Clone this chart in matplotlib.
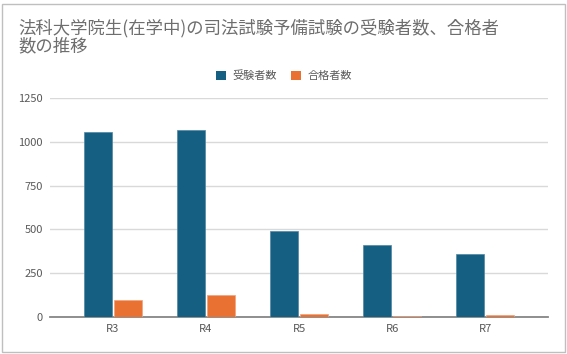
import numpy as np
import matplotlib
matplotlib.use('Agg')
import matplotlib.pyplot as plt
from matplotlib.patches import Rectangle, Patch

plt.rcParams['font.family'] = ['Noto Sans CJK JP', 'DejaVu Sans']

# data
categories = ['R3', 'R4', 'R5', 'R6', 'R7']
examinees = [1055, 1067, 492, 409, 361]
passers = [95, 122, 17, 6, 11]
series_names = ['受験者数', '合格者数']
yticks = [0, 250, 500, 750, 1000, 1250]

title = '法科大学院生(在学中)の司法試験予備試験の受験者数、合格者\n数の推移'

blue = '#156082'
orange = '#E97132'
gray_txt = '#595959'

W, H = 567, 354
fig = plt.figure(figsize=(W / 100, H / 100), dpi=100)

# chart frame
fig.patches.append(Rectangle((2 / W, 2 / H), 563 / W, 348 / H, transform=fig.transFigure,
                             fill=False, edgecolor='#bfbfbf', linewidth=1.0))

ax = fig.add_axes([50 / W, 37.3 / H, 498 / W, 218.4 / H])

x = np.arange(len(categories))
bw = 0.30
off = 0.164
ax.bar(x - off, examinees, bw, color=blue, edgecolor='#4f87a3', linewidth=0.5, zorder=3)
ax.bar(x + off, passers, bw, color=orange, edgecolor='#f2a27a', linewidth=0.5, zorder=3)

ax.set_xlim(-0.675, len(categories) - 1 + 0.675)
ax.set_ylim(0, 1250)
ax.set_yticks(yticks)
ax.set_xticks(x)
ax.set_xticklabels(categories)
ax.grid(axis='y', color='#d9d9d9', linewidth=1.0, zorder=0)
ax.set_axisbelow(True)
for s in ['top', 'right', 'left']:
    ax.spines[s].set_visible(False)
ax.spines['bottom'].set_color('#868686')
ax.spines['bottom'].set_linewidth(1.3)
ax.spines['bottom'].set_zorder(2)
ax.tick_params(axis='both', length=0, labelsize=8, labelcolor=gray_txt)
ax.tick_params(axis='x', pad=5)
ax.tick_params(axis='y', pad=5)

fig.text(18 / W, 1 - 19 / H, title, ha='left', va='top', fontsize=12.5,
         color='#6e6e6e', linespacing=0.95)

handles = [Patch(facecolor=blue), Patch(facecolor=orange)]
fig.legend(handles, series_names, loc='center', bbox_to_anchor=(284 / W, 1 - 76 / H),
           ncol=2, frameon=False, fontsize=8, labelcolor=gray_txt,
           handlelength=0.9, handleheight=0.9, handletextpad=0.6, columnspacing=1.3)

fig.savefig('out.png', dpi=100, facecolor='white')
